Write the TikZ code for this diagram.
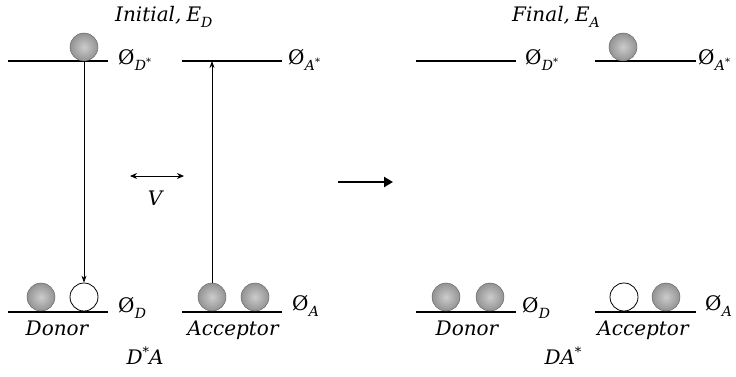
\documentclass[tikz,border=0pt]{standalone}
\usepackage{fontspec}
\setmainfont{DejaVu Serif}
\usetikzlibrary{arrows.meta}
% orbital label: slashed O with an italic subscript
\newcommand\orblab[1]{Ø\kern0.3pt\raisebox{-0.3em}{\fontsize{14}{14}\selectfont\itshape #1}}
% small raised stars
\newcommand\ustar{\raisebox{0.38em}{\fontsize{13}{13}\selectfont *}}
\newcommand\sstar{\raisebox{0.3em}{\fontsize{10}{10}\selectfont *}}
\begin{document}
\begin{tikzpicture}[x=1pt,y=-1pt,
  level/.style={line width=2.4pt},
  ball/.style={circle,minimum size=28pt,inner sep=0pt,shading=radial,
    inner color=gray!40,outer color=gray!85,draw=gray!70!black,line width=0.4pt},
  hole/.style={circle,minimum size=28pt,inner sep=0pt,draw=black,line width=0.8pt,fill=white},
  lbl/.style={font=\fontsize{20}{22}\selectfont,inner sep=0pt},
  trans/.style={line width=0.7pt,-{Stealth[length=7pt,width=5pt]}}]
\useasboundingbox (0,0) rectangle (736,376);

% energy levels, initial state
\draw[level] (8,61) -- (108,61);
\draw[level] (182,61) -- (282,61);
\draw[level] (8,312) -- (108,312);
\draw[level] (182,312) -- (282,312);

% energy levels, final state
\draw[level] (416,61) -- (516,61);
\draw[level] (595,61) -- (696,61);
\draw[level] (416,312) -- (516,312);
\draw[level] (595,312) -- (696,312);

% electrons, initial state
\node[ball] (dtop) at (84,47) {};
\node[ball] (d1) at (41,297) {};
\node[hole] (d2) at (84,297) {};
\node[ball] (a1) at (212,297) {};
\node[ball] (a2) at (255,297) {};
\coordinate (aup) at (212,61);

% electrons, final state
\node[ball] (ftop) at (623,47) {};
\node[ball] (fd1) at (446,297) {};
\node[ball] (fd2) at (490,297) {};
\node[hole] (fa1) at (624,297) {};
\node[ball] (fa2) at (666,297) {};

% transitions
\draw[trans] (dtop.south) -- (d2.north);
\draw[trans] (a1.north) -- (aup);

% coupling
\coordinate (vL) at (130,176);
\coordinate (vR) at (184,176);
\draw[line width=0.9pt,{Stealth[length=7pt,width=6pt]}-{Stealth[length=7pt,width=6pt]}] (vL) -- (vR);
\node[lbl,anchor=base] (vlab) at (155,205) {\itshape V};

% process arrow
\coordinate (pL) at (338,182);
\coordinate (pR) at (393,182);
\draw[line width=2.6pt,-{Triangle[length=9pt,width=10pt]}] (pL) -- (pR);

% labels, initial state
\node[lbl,anchor=base west] (tini) at (115,21) {\itshape Initial,\kern5pt E\raisebox{-0.3em}{\fontsize{14}{14}\selectfont D}};
\node[lbl,anchor=base west] (ldstar) at (118,64) {\orblab{D\sstar}};
\node[lbl,anchor=base west] (lastar) at (288,64) {\orblab{A\sstar}};
\node[lbl,anchor=base west] (ld) at (118,312) {\orblab{D}};
\node[lbl,anchor=base west] (la) at (292,310) {\orblab{A}};
\node[lbl,anchor=base] (don) at (57,335) {\itshape Donor};
\node[lbl,anchor=base] (acc) at (233,335) {\itshape Acceptor};
\node[lbl,anchor=base] (sini) at (145,364) {\itshape D\ustar A};

% labels, final state
\node[lbl,anchor=base west] (tfin) at (512,21) {\itshape Final,\kern5pt E\raisebox{-0.3em}{\fontsize{14}{14}\selectfont A}};
\node[lbl,anchor=base west] (fldstar) at (525,64) {\orblab{D\sstar}};
\node[lbl,anchor=base west] (flastar) at (698,64) {\orblab{A\sstar}};
\node[lbl,anchor=base west] (fld) at (522,312) {\orblab{D}};
\node[lbl,anchor=base west] (fla) at (705,310) {\orblab{A}};
\node[lbl,anchor=base] (fdon) at (467,335) {\itshape Donor};
\node[lbl,anchor=base] (facc) at (643,335) {\itshape Acceptor};
\node[lbl,anchor=base] (sfin) at (563,364) {\itshape DA\ustar};
\end{tikzpicture}
\end{document}
